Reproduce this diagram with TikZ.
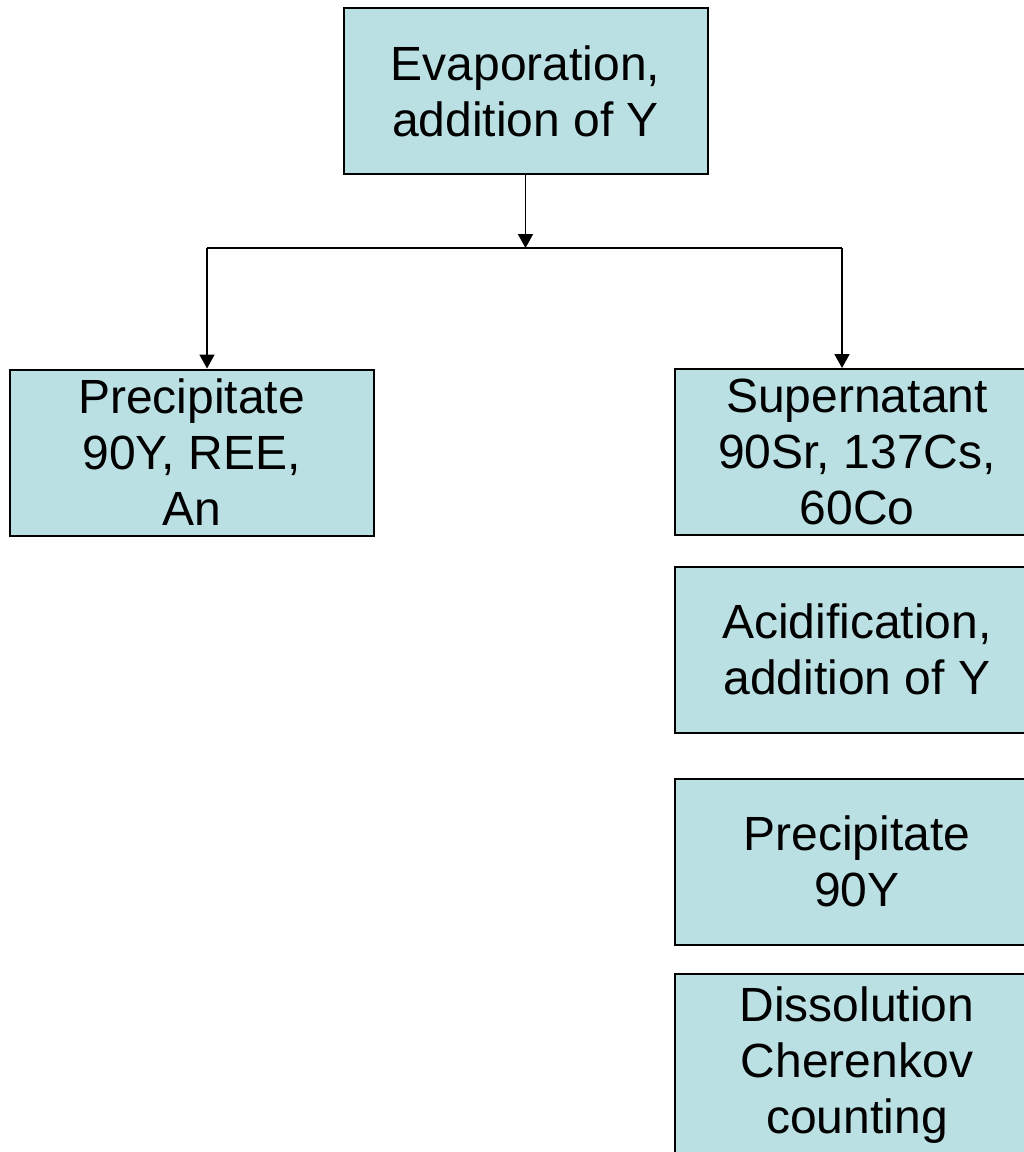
\documentclass[tikz,border=0pt]{standalone}
\usepackage{fontspec}
\setmainfont{Liberation Sans}
\usetikzlibrary{arrows.meta}
\definecolor{boxfill}{RGB}{187,224,227}
\tikzset{
  stagebox/.style={draw, fill=boxfill, line width=2pt, minimum width=364pt,
    minimum height=166pt, align=center, inner sep=0pt,
    font=\fontsize{48}{56}\selectfont},
  flow/.style={line width=1.8pt},
  flowarrow/.style={line width=1.8pt, -{Triangle[width=15pt,length=14pt]}}
}

\begin{document}
\begin{tikzpicture}[x=1pt, y=-1pt]
  \clip (0,0) rectangle (1024,1152);

  \node[stagebox] (evap) at (525.5,91) {Evaporation,\\addition of Y};

  \node[stagebox] (precA) at (191.5,452.5) {Precipitate\\90Y, REE,\\An};
  \node[stagebox] (super) at (857,452) {Supernatant\\90Sr, 137Cs,\\60Co};
  \node[stagebox] (acid) at (857,649.5) {Acidification,\\addition of Y};
  \node[stagebox] (precB) at (857,861.5) {Precipitate\\90Y};
  \node[stagebox, minimum height=182pt, anchor=north] (dissol) at (857,973)
    {Dissolution\\Cherenkov\\counting};

  % split into precipitate and supernatant
  \coordinate (splitL) at (207,248);
  \coordinate (splitR) at (842,248);
  \draw[flowarrow] (evap.south) -- (evap.south |- splitL);
  \draw[flow] (splitL) -- (splitR);
  \draw[flowarrow] (splitL) -- (splitL |- precA.north);
  \draw[flowarrow] (splitR) -- (splitR |- super.north);
\end{tikzpicture}
\end{document}
